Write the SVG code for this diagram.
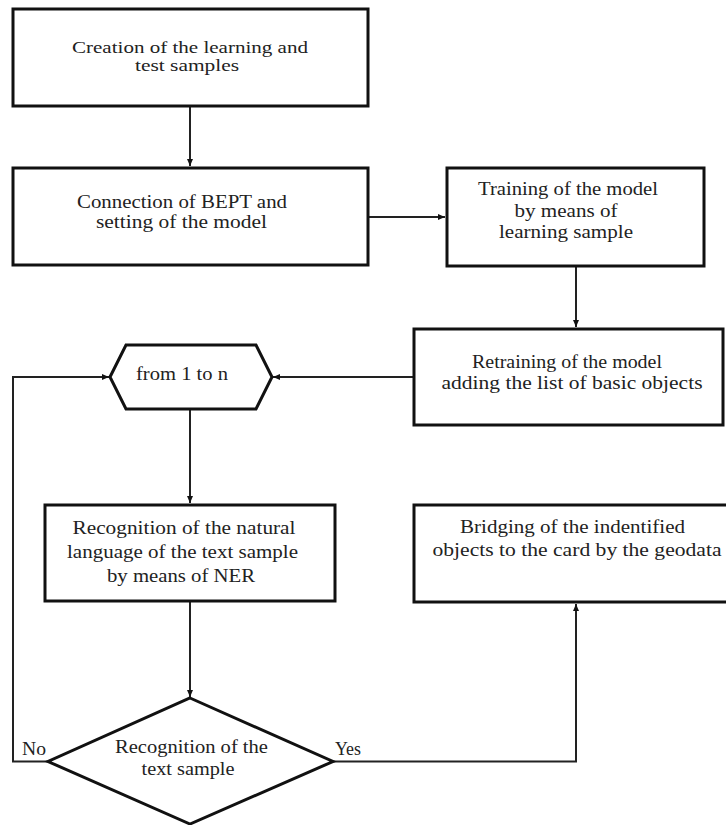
<svg xmlns="http://www.w3.org/2000/svg" width="726" height="825" viewBox="0 0 726 825">
<style>
.box{fill:#fff;stroke:#111;stroke-width:3}
.t{font-family:"Liberation Serif","Times New Roman",serif;font-size:18px;fill:#222;text-anchor:middle}
.s{font-size:16px}
.c{fill:none;stroke:#222;stroke-width:2}
</style>
<defs>
<marker id="ah" markerUnits="userSpaceOnUse" markerWidth="8" markerHeight="6" refX="7" refY="3" orient="auto">
<path d="M0,0 L7,3 L0,6 z" fill="#111"/>
</marker>
</defs>
<rect width="726" height="825" fill="#fff"/>
<g id="connectors">
<path class="c" d="M190,106 V166" marker-end="url(#ah)"/>
<path class="c" d="M368,217 H445" marker-end="url(#ah)"/>
<path class="c" d="M576,266 V327" marker-end="url(#ah)"/>
<path class="c" d="M414,377 H273" marker-end="url(#ah)"/>
<path class="c" d="M190,409 V503" marker-end="url(#ah)"/>
<path class="c" d="M190,601 V697" marker-end="url(#ah)"/>
<path class="c" d="M48,761.5 H13 V377 H109" marker-end="url(#ah)"/>
<path class="c" d="M333,761.5 H576 V604" marker-end="url(#ah)"/>
<text class="t" x="34" y="755" textLength="24" lengthAdjust="spacingAndGlyphs">No</text>
<text class="t" x="348" y="755" textLength="26" lengthAdjust="spacingAndGlyphs">Yes</text>
</g>
<g id="n1">
<rect class="box" x="13" y="9" width="355" height="97"/>
<text class="t s" x="190" y="53" textLength="236" lengthAdjust="spacingAndGlyphs">Creation of the learning and</text>
<text class="t s" x="187" y="71" textLength="104" lengthAdjust="spacingAndGlyphs">test samples</text>
</g>
<g id="n2">
<rect class="box" x="13" y="168" width="355" height="97"/>
<text class="t" x="182" y="208" textLength="210" lengthAdjust="spacingAndGlyphs">Connection of BEPT and</text>
<text class="t" x="181.5" y="228" textLength="171" lengthAdjust="spacingAndGlyphs">setting of the model</text>
</g>
<g id="n3">
<rect class="box" x="447" y="168" width="257" height="98"/>
<text class="t" x="568" y="195" textLength="180" lengthAdjust="spacingAndGlyphs">Training of the model</text>
<text class="t" x="566" y="217" textLength="103" lengthAdjust="spacingAndGlyphs">by means of</text>
<text class="t" x="566" y="238" textLength="134" lengthAdjust="spacingAndGlyphs">learning sample</text>
</g>
<g id="n4">
<rect class="box" x="414" y="329" width="309" height="96"/>
<text class="t" x="567" y="368" textLength="190" lengthAdjust="spacingAndGlyphs">Retraining of the model</text>
<text class="t" x="572" y="389" textLength="261" lengthAdjust="spacingAndGlyphs">adding the list of basic objects</text>
</g>
<g id="n5">
<polygon class="box" points="110,377 126,345 256,345 272,377 256,409 126,409"/>
<text class="t" x="182" y="380" textLength="92" lengthAdjust="spacingAndGlyphs">from 1 to n</text>
</g>
<g id="n6">
<rect class="box" x="45" y="505" width="290" height="96"/>
<text class="t" x="184" y="534" textLength="223" lengthAdjust="spacingAndGlyphs">Recognition of the natural</text>
<text class="t" x="182.5" y="558" textLength="231" lengthAdjust="spacingAndGlyphs">language of the text sample</text>
<text class="t" x="181" y="582" textLength="148" lengthAdjust="spacingAndGlyphs">by means of NER</text>
</g>
<g id="n7">
<rect class="box" x="414" y="505" width="314" height="97"/>
<text class="t" x="572.5" y="533" textLength="225" lengthAdjust="spacingAndGlyphs">Bridging of the indentified</text>
<text class="t" x="577" y="556" textLength="289" lengthAdjust="spacingAndGlyphs">objects to the card by the geodata</text>
</g>
<g id="n8">
<polygon class="box" points="190,698 333,761.5 190,824 48,761.5"/>
<text class="t" x="191.5" y="753" textLength="153" lengthAdjust="spacingAndGlyphs">Recognition of the</text>
<text class="t" x="188" y="775" textLength="93" lengthAdjust="spacingAndGlyphs">text sample</text>
</g>
</svg>
